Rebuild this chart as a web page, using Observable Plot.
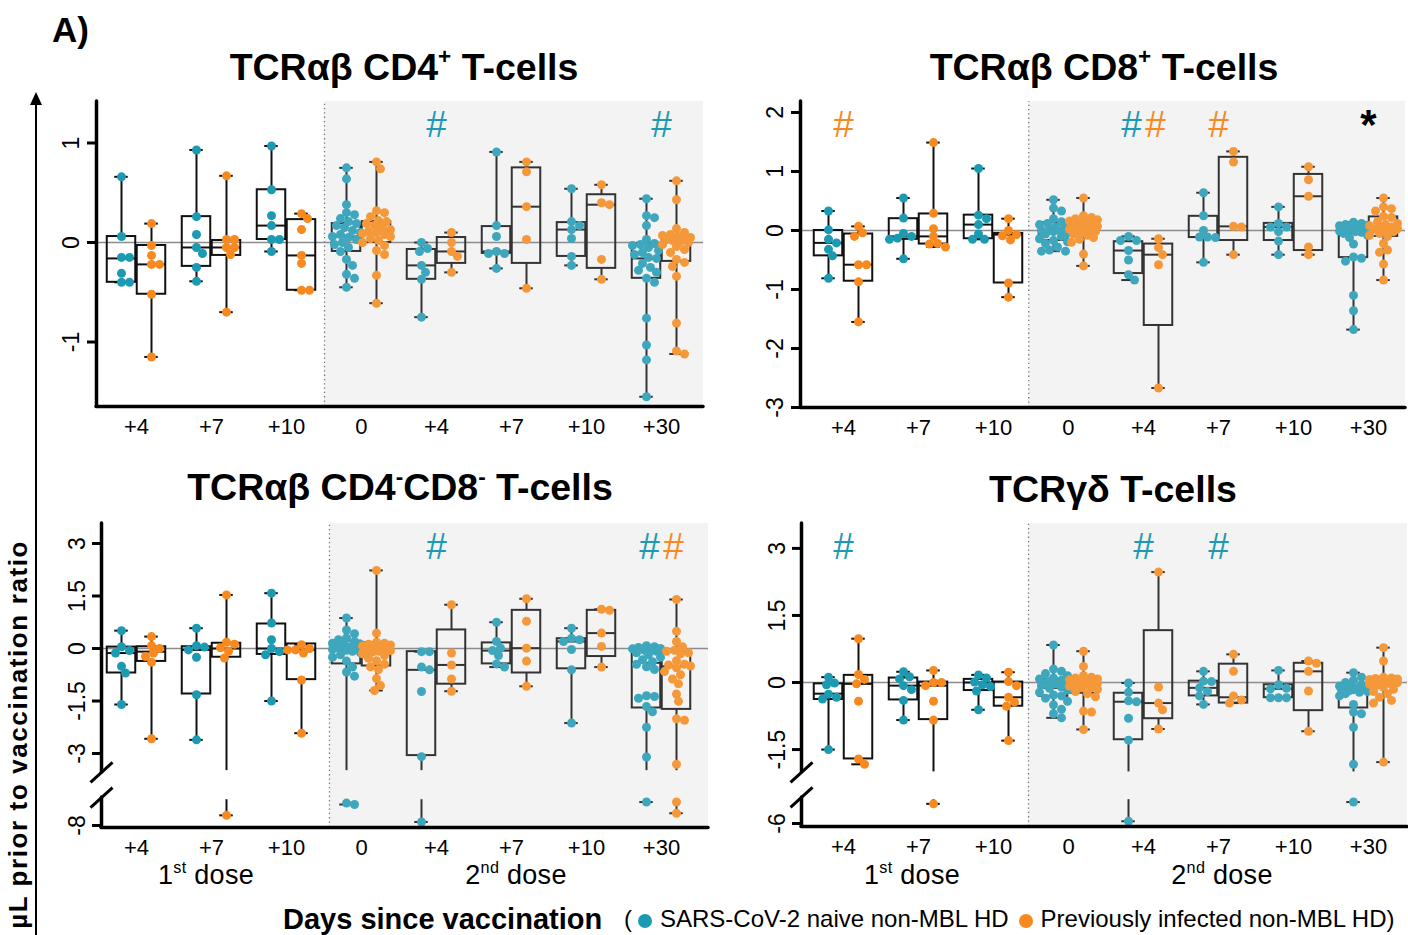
<!DOCTYPE html>
<html><head><meta charset="utf-8">
<script src="https://cdn.jsdelivr.net/npm/d3@7"></script>
<script src="https://cdn.jsdelivr.net/npm/@observablehq/plot@0.6"></script>
<style>
body{margin:0;background:#fff;font-family:"Liberation Sans",Arial,sans-serif;color:#000;}
#root{position:relative;width:1408px;height:935px;overflow:hidden;background:#fff;}
.abs{position:absolute;white-space:nowrap;line-height:1;}
.t{font-weight:bold;font-size:37.5px;transform:translate(-50%,-50%);}
.t sup,.d sup{font-size:.6em;vertical-align:0;position:relative;top:-.7em;}
.d{font-size:27px;letter-spacing:0.3px;transform:translate(-50%,-50%);}
.panel{position:absolute;}
</style></head><body><div id="root">
<svg class="abs" style="left:26px;top:88px" width="20" height="860"><line x1="10" y1="12" x2="10" y2="860" stroke="#000" stroke-width="2"/><polygon points="4,17 10,4 16,17" fill="#000"/></svg>
<div class="abs" style="left:52px;top:12px;font-weight:bold;font-size:35px;">A)</div>
<div class="abs" style="left:0;top:0;transform-origin:0 0;transform:translate(18px,540px) rotate(-90deg) translate(-100%,-50%);font-weight:bold;font-size:26px;letter-spacing:1.6px;">µL prior to vaccination ratio</div>
<div class="abs t" style="left:404px;top:68px">TCRαβ CD4<sup>+</sup> T-cells</div>
<div class="abs t" style="left:1104px;top:68px">TCRαβ CD8<sup>+</sup> T-cells</div>
<div class="abs t" style="left:400px;top:488px">TCRαβ CD4<sup>-</sup>CD8<sup>-</sup> T-cells</div>
<div class="abs t" style="left:1113px;top:490px">TCRγδ T-cells</div>
<div class="abs d" style="left:206px;top:875px">1<sup>st</sup> dose</div>
<div class="abs d" style="left:516px;top:875px">2<sup>nd</sup> dose</div>
<div class="abs d" style="left:912px;top:875px">1<sup>st</sup> dose</div>
<div class="abs d" style="left:1222px;top:875px">2<sup>nd</sup> dose</div>
<div class="abs" style="left:283px;top:905px;font-weight:bold;font-size:29px;">Days since vaccination</div>
<div class="abs" id="legend" style="left:624px;top:907px;font-size:24px;"></div>
</div>
<script>
// ---------- categories / labels ----------
const GROUPS = ["+4","+7","+10","0","+4","+7","+10","+30"];
const SERIES = ["SARS-CoV-2 naive non-MBL HD","Previously infected non-MBL HD"];
const TEAL = "#1b9ab2", ORANGE = "#f7891f", TEAL_L = "#3ea7bd", ORANGE_L = "#f5983a";

// ---------- TCRab CD4+ ----------
const cd4Teal = [
 [0.66,0.06,-0.15,-0.15,-0.31,-0.40,-0.40],
 [0.93,0.26,0.08,-0.05,-0.11,-0.25,-0.39],
 [0.97,0.53,0.27,0.17,0.03,0.03,-0.09],
 [0.75,0.64,0.38,0.30,0.28,0.24,0.21,0.19,0.17,0.15,0.12,0.10,0.08,0.06,0.05,0.03,0.0,-0.02,-0.05,-0.09,-0.17,-0.23,-0.32,-0.36,-0.45],
 [0.0,-0.06,-0.09,-0.23,-0.30,-0.37,-0.75],
 [0.91,0.17,0.06,-0.09,-0.11,-0.11,-0.26],
 [0.54,0.21,0.17,0.13,0.04,-0.14,-0.23],
 [0.44,0.27,0.25,0.17,0.03,-0.01,-0.02,-0.03,-0.05,-0.08,-0.10,-0.12,-0.15,-0.16,-0.21,-0.25,-0.28,-0.30,-0.36,-0.40,-0.76,-1.03,-1.18,-1.55]];
const cd4Orange = [
 [0.19,-0.03,-0.13,-0.22,-0.22,-0.52,-1.15],
 [0.67,0.03,0.03,-0.05,-0.05,-0.12,-0.70],
 [0.29,0.24,0.13,-0.13,-0.21,-0.48,-0.48],
 [0.81,0.74,0.32,0.30,0.26,0.22,0.21,0.19,0.17,0.15,0.13,0.11,0.10,0.09,0.08,0.06,0.04,0.02,0.0,-0.03,-0.08,-0.12,-0.33,-0.61],
 [0.10,0.0,-0.09,-0.14,-0.30],
 [0.81,0.71,0.36,0.03,-0.46],
 [0.58,0.40,0.38,-0.17,-0.37],
 [0.62,0.43,0.14,0.10,0.08,0.07,0.06,0.05,0.04,0.03,0.02,0.01,0.0,-0.02,-0.04,-0.07,-0.10,-0.17,-0.20,-0.24,-0.34,-0.81,-1.09,-1.12]];
// boxes: [Q1, median, Q3]
const cd4BoxTeal = [[-0.40,-0.16,0.06],[-0.24,-0.05,0.26],[0.03,0.17,0.53],[-0.09,0.06,0.19],[-0.37,-0.23,-0.07],[-0.11,-0.09,0.16],[-0.14,0.13,0.20],[-0.36,-0.16,-0.01]];
const cd4BoxOrange = [[-0.52,-0.22,-0.03],[-0.13,-0.05,0.02],[-0.48,-0.13,0.23],[0.0,0.10,0.21],[-0.21,-0.09,0.05],[-0.21,0.36,0.75],[-0.26,0.38,0.48],[-0.19,0.01,0.05]];
const cd4Ticks = [1,0,-1];
const cd4Notes = [{g:4,t:"#",c:"teal"},{g:7,t:"#",c:"teal"}];

// ---------- TCRab CD8+ ----------
const cd8Teal = [
 [0.33,0.01,-0.15,-0.21,-0.32,-0.43,-0.81],
 [0.55,0.21,-0.05,-0.10,-0.13,-0.15,-0.48],
 [1.05,0.26,0.20,0.10,-0.06,-0.15,-0.15],
 [0.52,0.38,0.33,0.20,0.15,0.12,0.10,0.06,0.04,0.02,0.0,0.0,-0.02,-0.04,-0.06,-0.10,-0.14,-0.17,-0.19,-0.22,-0.28,-0.33,-0.35,-0.35],
 [-0.10,-0.17,-0.17,-0.34,-0.50,-0.75,-0.84],
 [0.64,0.25,0.0,-0.11,-0.11,-0.12,-0.54],
 [0.40,0.12,0.06,0.06,-0.02,-0.18,-0.41],
 [0.14,0.12,0.10,0.09,0.08,0.06,0.05,0.04,0.03,0.02,0.0,-0.01,-0.02,-0.03,-0.05,-0.08,-0.12,-0.23,-0.45,-0.47,-0.52,-1.10,-1.36,-1.68]];
const cd8Orange = [
 [0.07,-0.04,-0.10,-0.58,-0.58,-0.87,-1.55],
 [1.49,0.29,0.03,-0.10,-0.22,-0.23,-0.28],
 [0.20,0.0,-0.07,-0.09,-0.16,-0.89,-1.13],
 [0.55,0.25,0.22,0.20,0.18,0.16,0.14,0.12,0.10,0.09,0.07,0.05,0.04,0.02,0.0,-0.02,-0.04,-0.06,-0.08,-0.12,-0.15,-0.20,-0.40,-0.60],
 [-0.14,-0.29,-0.41,-0.58,-2.67],
 [1.34,1.16,0.07,0.06,-0.41],
 [1.08,0.86,0.58,-0.28,-0.41],
 [0.55,0.40,0.37,0.33,0.24,0.22,0.15,0.12,0.10,0.08,0.06,0.05,0.03,0.02,0.0,-0.02,-0.05,-0.08,-0.10,-0.22,-0.33,-0.37,-0.57,-0.84]];
const cd8BoxTeal = [[-0.43,-0.21,0.0],[-0.15,-0.10,0.20],[-0.14,0.10,0.26],[-0.17,-0.02,0.13],[-0.73,-0.34,-0.19],[-0.12,-0.11,0.24],[-0.17,0.06,0.12],[-0.46,-0.04,-0.01]];
const cd8BoxOrange = [[-0.86,-0.58,-0.06],[-0.23,-0.10,0.28],[-0.89,-0.07,-0.05],[-0.06,0.06,0.16],[-1.61,-0.41,-0.23],[-0.17,0.07,1.24],[-0.34,0.58,0.95],[-0.10,0.04,0.23]];
const cd8Ticks = [2,1,0,-1,-2,-3];
const cd8Notes = [{g:0,t:"#",c:"orange"},{g:4,t:"#",c:"teal",dx:-12},{g:4,t:"#",c:"orange",dx:12},{g:5,t:"#",c:"orange"},{g:7,t:"*",c:"black"}];

// ---------- TCRab CD4-CD8- ----------
const dnTeal = [
 [0.51,0.05,-0.06,-0.13,-0.51,-0.70,-1.60],
 [0.58,0.08,0.04,-0.04,-0.25,-1.32,-2.61],
 [1.58,0.73,0.25,0.0,-0.09,-0.18,-1.50],
 [0.87,0.53,0.42,0.30,0.25,0.20,0.15,0.12,0.10,0.05,0.02,0.0,-0.03,-0.05,-0.08,-0.12,-0.18,-0.25,-0.36,-0.53,-0.67,-0.79,-7.36,-7.40],
 [-0.09,-0.09,-0.53,-0.61,-1.23,-3.09,-7.90],
 [0.75,0.20,0.01,-0.06,-0.20,-0.44,-0.53],
 [0.58,0.29,0.25,0.20,-0.03,-0.61,-2.13],
 [0.08,0.05,0.03,0.0,-0.01,-0.02,-0.05,-0.08,-0.12,-0.18,-0.25,-0.32,-0.38,-0.45,-0.52,-0.60,-1.35,-1.37,-1.42,-1.66,-1.81,-2.25,-3.10,-7.33]];
const dnOrange = [
 [0.34,0.08,0.0,-0.13,-0.23,-0.39,-2.58],
 [1.53,0.18,0.12,0.02,-0.08,-0.27,-7.71],
 [0.11,0.0,-0.04,-0.04,-0.13,-0.90,-2.42],
 [2.23,0.44,0.18,0.15,0.12,0.10,0.07,0.05,0.03,0.0,-0.03,-0.06,-0.08,-0.10,-0.15,-0.20,-0.28,-0.35,-0.45,-0.52,-0.60,-0.86,-1.06,-1.20],
 [1.25,-0.13,-0.47,-0.87,-1.22],
 [1.42,0.78,0.01,-0.36,-1.08],
 [1.12,1.09,0.44,0.06,-0.53],
 [1.40,0.49,0.20,0.05,-0.05,-0.08,-0.12,-0.15,-0.35,-0.45,-0.47,-0.50,-0.55,-0.66,-0.75,-0.87,-1.01,-1.30,-1.51,-2.01,-2.05,-3.31,-7.33,-7.65]];
const dnBoxTeal = [[-0.70,-0.13,0.04],[-1.30,-0.04,0.05],[-0.17,0.0,0.70],[-0.44,-0.05,0.21],[-3.06,-0.61,-0.09],[-0.44,-0.06,0.16],[-0.58,0.20,0.28],[-1.70,-0.41,-0.06]];
const dnBoxOrange = [[-0.37,-0.09,0.05],[-0.25,0.0,0.15],[-0.89,-0.04,0.13],[-0.50,-0.12,0.16],[-1.02,-0.47,0.53],[-0.70,0.01,1.09],[-0.23,0.44,1.09],[-1.74,-0.51,-0.11]];
const dnTicks = [3,1.5,0,-1.5,-3,-8];
const dnNotes = [{g:4,t:"#",c:"teal"},{g:7,t:"#",c:"teal",dx:-12},{g:7,t:"#",c:"orange",dx:12}];

// ---------- TCRgd ----------
const gdTeal = [
 [0.12,-0.01,-0.05,-0.26,-0.33,-0.37,-1.50],
 [0.24,0.13,0.08,-0.07,-0.16,-0.40,-0.84],
 [0.17,0.10,0.01,-0.05,-0.09,-0.19,-0.61],
 [0.84,0.30,0.25,0.20,0.15,0.10,0.08,0.05,0.02,0.0,-0.03,-0.06,-0.10,-0.13,-0.17,-0.22,-0.28,-0.30,-0.35,-0.42,-0.50,-0.60,-0.70,-0.79],
 [-0.01,-0.22,-0.41,-0.43,-0.80,-1.29,-5.95],
 [0.25,0.03,0.02,-0.12,-0.20,-0.30,-0.49],
 [0.27,-0.05,-0.13,-0.14,-0.34,-0.34,-0.34],
 [0.22,0.12,0.05,0.0,-0.05,-0.08,-0.10,-0.11,-0.12,-0.13,-0.14,-0.15,-0.16,-0.18,-0.20,-0.22,-0.25,-0.30,-0.49,-0.66,-0.70,-1.00,-1.83,-5.52]];
const gdOrange = [
 [0.98,0.18,0.07,-0.03,-0.42,-1.71,-1.83],
 [0.27,0.0,0.0,-0.07,-0.42,-0.84,-5.56],
 [0.23,0.02,-0.07,-0.33,-0.44,-0.53,-1.30],
 [0.70,0.36,0.15,0.12,0.10,0.08,0.06,0.04,0.03,0.01,0.0,-0.02,-0.04,-0.06,-0.08,-0.10,-0.12,-0.15,-0.20,-0.25,-0.32,-0.64,-0.66,-1.05],
 [2.47,-0.10,-0.46,-0.61,-1.04],
 [0.63,0.25,-0.30,-0.39,-0.46],
 [0.48,0.43,0.25,-0.19,-1.09],
 [0.78,0.48,0.12,0.10,0.09,0.08,0.07,0.06,0.05,0.04,0.02,0.01,0.0,-0.02,-0.04,-0.06,-0.10,-0.15,-0.20,-0.25,-0.33,-0.40,-0.46,-1.78]];
const gdBoxTeal = [[-0.38,-0.25,-0.03],[-0.39,-0.07,0.10],[-0.18,0.0,0.07],[-0.31,-0.12,0.07],[-1.28,-0.43,-0.24],[-0.30,-0.12,0.03],[-0.34,-0.14,-0.05],[-0.57,-0.14,-0.09]];
const gdBoxOrange = [[-1.71,-0.03,0.16],[-0.83,-0.07,0.01],[-0.53,-0.33,0.01],[-0.24,-0.06,0.07],[-0.81,-0.46,1.16],[-0.46,-0.33,0.41],[-0.63,0.25,0.43],[-0.03,0.0,0.08]];
const gdTicks = [3,1.5,0,-1.5,-6];
const gdNotes = [{g:0,t:"#",c:"teal"},{g:4,t:"#",c:"teal"},{g:5,t:"#",c:"teal"}];

// ---------- helpers ----------
const PX_X = 75;
const NOTE_COLOR = {teal: "#1b9ab2", orange: "#f7891f", black: "#000"};
function swarm(vals, pxY) {
  const placed = [], out = [];
  const cands = [0];
  for (let k = 1; k <= 7; k++) cands.push(2 * k, -2 * k);
  vals.forEach(v => {
    const y = v * pxY;
    let best = 0, bestD = -1;
    for (const dx of cands) {
      const d = placed.length ? Math.min(...placed.map(p => Math.hypot(p.x - dx, p.y - y))) : Infinity;
      if (d >= 7.5) { best = dx; break; }
      if (d > bestD) { bestD = d; best = dx; }
    }
    placed.push({x: best, y});
    out.push(best);
  });
  return out;
}

function makePanel(p) {
  const disp = p.disp || (v => v);
  const [x0, x1] = p.x, [y0, y1] = p.y;
  const dots = [], boxes = [], whisk = [], caps = [];
  [p.teal, p.orange].forEach((arr, s) => arr.forEach((vals, g) => {
    const xc = g + (s ? 0.2 : -0.2);
    const dv = vals.map(disp);
    const off = swarm(dv, p.pxY);
    const fill = s ? (g >= 3 ? ORANGE_L : ORANGE) : (g >= 3 ? TEAL_L : TEAL);
    dv.forEach((y, i) => dots.push({x: xc + off[i] / PX_X, y, fill}));
    const [q1, md, q3] = (s ? p.boxOrange : p.boxTeal)[g];
    const stroke = g >= 3 ? "#333333" : "#111111";
    boxes.push({x1: xc - 0.19, x2: xc + 0.19, y1: disp(q1), y2: disp(q3), md: disp(md), stroke});
    const mx = d3.max(vals), mn = d3.min(vals);
    whisk.push({x: xc, y1: disp(q3), y2: disp(mx), stroke});
    if (p.brk && mn < p.brk.low) {
      whisk.push({x: xc, y1: disp(q1), y2: p.brk.wTop, stroke});
      whisk.push({x: xc, y1: p.brk.wBot, y2: disp(mn), stroke});
    } else whisk.push({x: xc, y1: disp(q1), y2: disp(mn), stroke});
    caps.push({x1: xc - 0.09, x2: xc + 0.09, y: disp(mx), stroke}, {x1: xc - 0.09, x2: xc + 0.09, y: disp(mn), stroke});
  }));
  const axisSegs = p.axisSegs || [{a: y0, b: y1}];
  const tickLen = 9 / PX_X;
  const marks = [
    Plot.rect([0], {x1: p.shade, x2: x1, y1: y0, y2: y1, fill: "#f3f3f3"}),
    Plot.ruleX([p.shade], {y1: y0, y2: y1, stroke: "#777", strokeWidth: 1.3, strokeDasharray: "1.3,3"}),
    Plot.ruleY([0], {x1: x0, x2: x1, stroke: "#8c8c8c", strokeWidth: 1.6}),
    Plot.ruleX(whisk, {x: "x", y1: "y1", y2: "y2", stroke: "stroke", strokeWidth: 2}),
    Plot.rect(boxes, {x1: "x1", x2: "x2", y1: "y1", y2: "y2", fill: "none", stroke: "stroke", strokeWidth: 2}),
    Plot.ruleY(boxes, {y: "md", x1: "x1", x2: "x2", stroke: "stroke", strokeWidth: 2}),
    Plot.ruleY(caps, {y: "y", x1: "x1", x2: "x2", stroke: "stroke", strokeWidth: 2}),
    Plot.dot(dots, {x: "x", y: "y", r: 4.5, fill: "fill", stroke: null}),
    // axes
    Plot.ruleX(axisSegs, {x: x0, y1: "a", y2: "b", stroke: "#000", strokeWidth: 3.5, strokeLinecap: "round"}),
    Plot.ruleY([y0], {x1: x0, x2: x1, stroke: "#000", strokeWidth: 3.5, strokeLinecap: "round"}),
    Plot.ruleY(p.ticks, {y: d => disp(d), x1: x0 - tickLen, x2: x0, stroke: "#000", strokeWidth: 3}),
    Plot.text(p.ticks, {x: x0, y: d => disp(d), text: d => String(d), rotate: -90, dx: p.labelDx, fontSize: 23, fill: "#000"}),
    Plot.text(GROUPS, {x: (d, i) => i, y: y0, text: d => d, dy: 20, fontSize: 22, fill: "#000"}),
    Plot.text(p.notes.filter(n => n.t === "#"), {x: n => n.g + (n.dx || 0) / PX_X, y: y1, dy: 24, text: "t", fill: n => NOTE_COLOR[n.c], fontSize: 37}),
    Plot.text(p.notes.filter(n => n.t === "*"), {x: n => n.g, y: y1, dy: 24, text: "t", fill: "#000", fontSize: 42, fontWeight: "bold"})
  ];
  if (p.breakAt) {
    const bm = p.breakAt.map(c => ({x1: x0 - 11 / PX_X, y1: c - 10 / p.pxY, x2: x0 + 11 / PX_X, y2: c + 10 / p.pxY}));
    marks.push(Plot.link(bm, {x1: "x1", y1: "y1", x2: "x2", y2: "y2", stroke: "#000", strokeWidth: 3}));
  }
  return Plot.plot({
    width: p.width, height: p.height,
    marginLeft: p.m[0], marginRight: p.m[1], marginTop: p.m[2], marginBottom: p.m[3],
    x: {type: "linear", domain: p.x, axis: null},
    y: {type: "linear", domain: p.y, axis: null},
    style: {background: "transparent", overflow: "visible", fontFamily: "Liberation Sans, Arial, sans-serif"},
    marks
  });
}

const panels = [
  {left: 40, top: 95, width: 680, height: 350, m: [56, 17, 6, 39], x: [-0.5333, 7.56], y: [-1.648, 1.417], pxY: 99.5, shade: 2.507,
   teal: cd4Teal, orange: cd4Orange, boxTeal: cd4BoxTeal, boxOrange: cd4BoxOrange, ticks: cd4Ticks, notes: cd4Notes, labelDx: -25},
  {left: 740, top: 95, width: 668, height: 350, m: [60, 3, 6, 38], x: [-0.5733, 7.4933], y: [-3, 2.186], pxY: 59, shade: 2.47,
   teal: cd8Teal, orange: cd8Orange, boxTeal: cd8BoxTeal, boxOrange: cd8BoxOrange, ticks: cd8Ticks, notes: cd8Notes, labelDx: -25},
  {left: 40, top: 515, width: 680, height: 350, m: [61, 12, 8, 38], x: [-0.4667, 7.6267], y: [-5.114, 3.571], pxY: 35, shade: 2.573,
   teal: dnTeal, orange: dnOrange, boxTeal: dnBoxTeal, boxOrange: dnBoxOrange, ticks: dnTicks, notes: dnNotes, labelDx: -24,
   disp: v => v < -4 ? v + 2.943 : v, brk: {low: -4, wTop: -3.49, wBot: -4.32},
   axisSegs: [{a: -3.54, b: 3.571}, {a: -5.114, b: -4.26}], breakAt: [-3.54, -4.26]},
  {left: 740, top: 515, width: 668, height: 350, m: [61, 1, 8, 39], x: [-0.56, 7.52], y: [-3.221, 3.557], pxY: 44.7, shade: 2.467,
   teal: gdTeal, orange: gdOrange, boxTeal: gdBoxTeal, boxOrange: gdBoxOrange, ticks: gdTicks, notes: gdNotes, labelDx: -24,
   disp: v => v < -3 ? v + 2.846 : v, brk: {low: -3, wTop: -2.0, wBot: -2.62},
   axisSegs: [{a: -2.01, b: 3.557}, {a: -3.221, b: -2.57}], breakAt: [-2.01, -2.57]}
];

const root = document.getElementById("root");
panels.forEach(p => {
  const div = document.createElement("div");
  div.className = "panel";
  div.style.left = p.left + "px";
  div.style.top = p.top + "px";
  div.appendChild(makePanel(p));
  root.appendChild(div);
});

// legend
const leg = document.getElementById("legend");
leg.innerHTML = "(" + SERIES.map((s, i) =>
  `<span style="display:inline-block;width:14px;height:14px;border-radius:50%;background:${i ? ORANGE : TEAL};margin:0 8px 0 ${i ? 10 : 6}px;vertical-align:-1px"></span>${s}`).join("") + ")";
</script>
</body></html>
